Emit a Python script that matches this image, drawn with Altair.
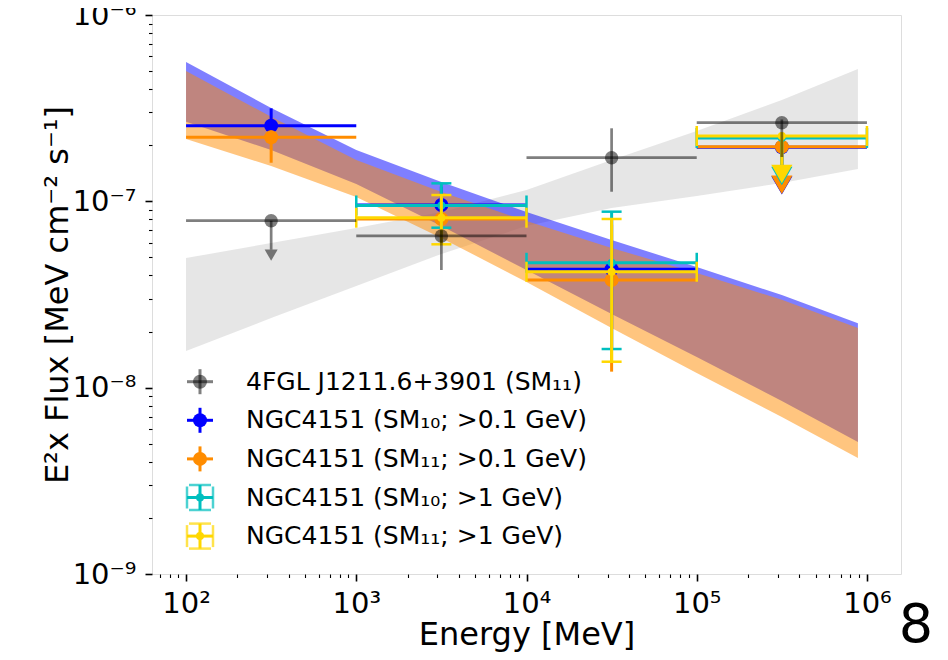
import math
import altair as alt
import pandas as pd

# ---------------- data ----------------
# butterfly bands (energy in MeV, E^2 flux in MeV cm^-2 s^-1)
band_E = [100, 316.2, 1000, 3162, 10000, 31620, 100000, 316200, 885000]
fgl_band_hi = [4.96e-8, 5.98e-8, 7.19e-8, 8.76e-8, 1.150e-7, 1.666e-7, 2.384e-7, 3.50e-7, 5.13e-7]
fgl_band_lo = [1.573e-8, 2.364e-8, 3.51e-8, 5.22e-8, 7.37e-8, 9.21e-8, 1.068e-7, 1.254e-7, 1.491e-7]
sm10_band_hi = [5.60e-7, 3.17e-7, 1.886e-7, 1.270e-7, 8.76e-8, 6.20e-8, 4.44e-8, 3.14e-8, 2.22e-8]
sm10_band_lo = [2.67e-7, 1.886e-7, 1.239e-7, 7.37e-8, 4.28e-8, 2.485e-8, 1.461e-8, 8.48e-9, 5.11e-9]
sm11_band_hi = [5.01e-7, 2.84e-7, 1.666e-7, 1.122e-7, 7.84e-8, 5.62e-8, 4.12e-8, 2.96e-8, 2.09e-8]
sm11_band_lo = [2.16e-7, 1.547e-7, 1.055e-7, 6.36e-8, 3.69e-8, 2.09e-8, 1.199e-8, 6.96e-9, 4.19e-9]

# energy bins
bin_E = [316.2, 3162, 31620, 316200]
bin_lo = [100, 1000, 10000, 100000]
bin_hi = [1000, 10000, 100000, 1000000]

# 4FGL J1211.6+3901 (SM11)
fgl_flux = [7.87e-8, 6.52e-8, 1.715e-7, 2.642e-7]
fgl_lo = [None, 4.28e-8, 1.126e-7, 1.73e-7]
fgl_hi = [None, 7.0e-8, 2.466e-7, 2.75e-7]
fgl_ul = [True, False, False, False]

# NGC4151 (SM10; >0.1 GeV)
a_flux = [2.547e-7, 9.56e-8, 4.32e-8, 1.95e-7]
a_lo = [2.1e-7, 7.4e-8, 1.6e-8, None]
a_hi = [3.156e-7, 1.2e-7, 8.0e-8, None]
a_ul = [False, False, False, True]

# NGC4151 (SM11; >0.1 GeV)
b_flux = [2.206e-7, 8.04e-8, 3.78e-8, 1.964e-7]
b_lo = [1.611e-7, 6.0e-8, 1.219e-8, None]
b_hi = [2.4e-7, 1.05e-7, 7.5e-8, None]
b_ul = [False, False, False, True]

# NGC4151 (SM10; >1 GeV)  -- bins 2..4
c_flux = [9.5e-8, 4.68e-8, 2.188e-7]
c_lo = [7.22e-8, 1.612e-8, None]
c_hi = [1.249e-7, 8.80e-8, None]
c_ul = [False, False, True]

# NGC4151 (SM11; >1 GeV)  -- bins 2..4
d_flux = [8.17e-8, 4.19e-8, 2.242e-7]
d_lo = [5.88e-8, 1.378e-8, None]
d_hi = [1.081e-7, 8.04e-8, None]
d_ul = [False, False, True]

leg_labels = [
    "4FGL J1211.6+3901 (SM\u2081\u2081)",
    "NGC4151 (SM\u2081\u2080; >0.1 GeV)",
    "NGC4151 (SM\u2081\u2081; >0.1 GeV)",
    "NGC4151 (SM\u2081\u2080; >1 GeV)",
    "NGC4151 (SM\u2081\u2081; >1 GeV)",
]
leg_colors = ["black", "#0000ff", "#ff8c00", "#00bfbf", "#ffd700"]

x_ticks = [70, 80, 90] + [k * 10 ** d for d in range(2, 6) for k in range(1, 10)] + [1000000]
y_ticks = [float(f"{k}e{d}") for d in range(-9, -6) for k in range(1, 10)] + [1e-6]

# ---------------- axes / scales ----------------
SUP = {"-": "\u207b", "0": "\u2070", "1": "\u00b9", "2": "\u00b2", "3": "\u00b3",
       "4": "\u2074", "5": "\u2075", "6": "\u2076", "7": "\u2077", "8": "\u2078", "9": "\u2079"}
LOGV = "(log(datum.value)/LN10)"
MAJ = f"abs({LOGV} - round({LOGV})) < 0.01"


def label_expr(exps):
    chain = "''"
    for e in exps:
        s = "".join(SUP[ch] for ch in str(e))
        chain = f"round({LOGV}) == {e} ? '10{s}' : ({chain})"
    return f"{MAJ} ? ({chain}) : ''"


FONT = "DejaVu Sans"
common_axis = dict(
    tickSize={"condition": {"test": MAJ, "value": 7}, "value": 3.5},
    tickWidth={"condition": {"test": MAJ, "value": 1.6}, "value": 1.1},
    tickColor="black", domain=False, grid=False,
    labelFont=FONT, labelFontSize=29, labelColor="black",
    labelOverlap=False, labelFlush=False,
    titleFont=FONT, titleFontSize=32, titleFontWeight="normal", titleColor="black",
)
XAX = alt.Axis(values=x_ticks, labelExpr=label_expr([2, 3, 4, 5, 6]), labelPadding=8,
               titleX=374.5, titleY=70, titleBaseline="alphabetic", titleAlign="center",
               **common_axis)
YAX = alt.Axis(values=y_ticks, labelExpr=label_expr([-9, -8, -7, -6]), labelPadding=9,
               titleX=-85, titleY=279.5, titleAngle=270, titleBaseline="alphabetic",
               titleAlign="center", **common_axis)
XS = alt.Scale(type="log", domain=[10 ** 1.8, 10 ** 6.2], nice=False)
YS = alt.Scale(type="log", domain=[1e-9, 1e-6], nice=False)
XT = "Energy [MeV]"
YT = "E\u00b2x Flux [MeV cm\u207b\u00b2 s\u207b\u00b9]"


def X(f):
    return alt.X(f, type="quantitative", scale=XS, axis=XAX, title=XT)


def Y(f):
    return alt.Y(f, type="quantitative", scale=YS, axis=YAX, title=YT)


layers = []

# ---------------- bands ----------------
for lo, hi, col, op in [(fgl_band_lo, fgl_band_hi, "gray", 0.2),
                        (sm10_band_lo, sm10_band_hi, "#0000ff", 0.5),
                        (sm11_band_lo, sm11_band_hi, "#ff8c00", 0.5)]:
    df = pd.DataFrame({"E": band_E, "lo": lo, "hi": hi})
    layers.append(alt.Chart(df).mark_area(color=col, opacity=op, strokeWidth=0)
                  .encode(x=X("E"), y=Y("lo"), y2=alt.Y2("hi")))


def series(E, elo, ehi, flux, lo, hi, ul, color, op, size, lw, caps, head):
    df = pd.DataFrame({"E": E, "elo": elo, "ehi": ehi, "flux": flux,
                       "lo": lo, "hi": hi, "ul": ul})
    base = alt.Chart(df)
    meas = base.transform_filter("!datum.ul")
    lim = base.transform_filter("datum.ul").transform_calculate(end="datum.flux * 0.7")
    out = [
        base.mark_rule(color=color, opacity=op, strokeWidth=lw)
        .encode(x=X("elo"), x2=alt.X2("ehi"), y=Y("flux")),
        meas.mark_rule(color=color, opacity=op, strokeWidth=lw)
        .encode(x=X("E"), y=Y("lo"), y2=alt.Y2("hi")),
        lim.mark_rule(color=color, opacity=op, strokeWidth=lw)
        .encode(x=X("E"), y=Y("flux"), y2=alt.Y2("end:Q")),
        lim.mark_point(shape="triangle-down", filled=True, size=head, color=color,
                       opacity=op, strokeWidth=0, yOffset=0.433 * math.sqrt(head))
        .encode(x=X("E"), y=Y("end:Q")),
    ]
    if caps:
        for f in ["lo", "hi"]:
            out.append(meas.mark_tick(orient="horizontal", size=20, thickness=2.5,
                                      color=color, opacity=op)
                       .encode(x=X("E"), y=Y(f)))
        for f in ["elo", "ehi"]:
            out.append(base.mark_tick(orient="vertical", size=20, thickness=2.5,
                                      color=color, opacity=op)
                       .encode(x=X(f), y=Y("flux")))
    out.append(base.mark_circle(color=color, opacity=op, size=size, strokeWidth=0)
               .encode(x=X("E"), y=Y("flux")))
    return out


layers += series(bin_E, bin_lo, bin_hi, a_flux, a_lo, a_hi, a_ul, "#0000ff", 1, 196, 3, False, 450)
layers += series(bin_E, bin_lo, bin_hi, b_flux, b_lo, b_hi, b_ul, "#ff8c00", 1, 196, 3, False, 450)
layers += series(bin_E[1:], bin_lo[1:], bin_hi[1:], c_flux, c_lo, c_hi, c_ul, "#00bfbf", 1, 64, 3, True, 450)
layers += series(bin_E[1:], bin_lo[1:], bin_hi[1:], d_flux, d_lo, d_hi, d_ul, "#ffd700", 1, 64, 3, True, 450)
layers += series(bin_E, bin_lo, bin_hi, fgl_flux, fgl_lo, fgl_hi, fgl_ul, "black", 0.5, 180, 2.7, False, 169)

# ---------------- legend (drawn by hand, errorbar glyphs) ----------------
leg = alt.Chart(pd.DataFrame({"row": list(range(len(leg_labels))), "label": leg_labels})) \
    .transform_calculate(py="366.7 + 38.6 * datum.row", ptop="354.2 + 38.6 * datum.row",
                         pbot="379.2 + 38.6 * datum.row")
LCOL = alt.Color("label:N", scale=alt.Scale(domain=leg_labels, range=leg_colors), legend=None)
LOP = alt.condition("datum.row == 0", alt.value(0.5), alt.value(1.0))
PY = alt.Y("py:Q", scale=None)
layers += [
    leg.mark_rule(strokeWidth=3).encode(x=alt.value(35), x2=alt.value(61), y=PY,
                                        color=LCOL, opacity=LOP),
    leg.mark_rule(strokeWidth=3).encode(x=alt.value(48), y=alt.Y("ptop:Q", scale=None),
                                        y2=alt.Y2("pbot:Q"), color=LCOL, opacity=LOP),
]
legc = leg.transform_filter("datum.row >= 3")
for xv in [35, 61]:
    layers.append(legc.mark_tick(orient="vertical", size=22, thickness=2.5)
                  .encode(x=alt.value(xv), y=PY, color=LCOL))
for f in ["ptop", "pbot"]:
    layers.append(legc.mark_tick(orient="horizontal", size=22, thickness=2.5)
                  .encode(x=alt.value(48), y=alt.Y(f + ":Q", scale=None), color=LCOL))
layers += [
    leg.mark_circle(strokeWidth=0).encode(
        x=alt.value(48), y=PY, color=LCOL, opacity=LOP,
        size=alt.condition("datum.row < 3", alt.value(196), alt.value(64))),
    leg.mark_text(align="left", baseline="middle", font=FONT, fontSize=25, color="black")
    .encode(x=alt.value(94), y=PY, text="label:N"),
]

# panel number
layers.append(alt.Chart(pd.DataFrame({"t": ["8"]}))
              .mark_text(font=FONT, fontSize=54, align="center", baseline="alphabetic",
                         color="black", x=764, y=627)
              .encode(text="t:N"))

chart = alt.layer(*layers).properties(
    width=749, height=559,
    autosize=alt.AutoSizeParams(type="none"),
    padding={"left": 144, "top": 7, "right": 39, "bottom": 82},
    background="white",
).configure_view(stroke="black", strokeWidth=2).configure(font=FONT)

chart.save("out.html", embed_options={"renderer": "svg", "actions": False})
